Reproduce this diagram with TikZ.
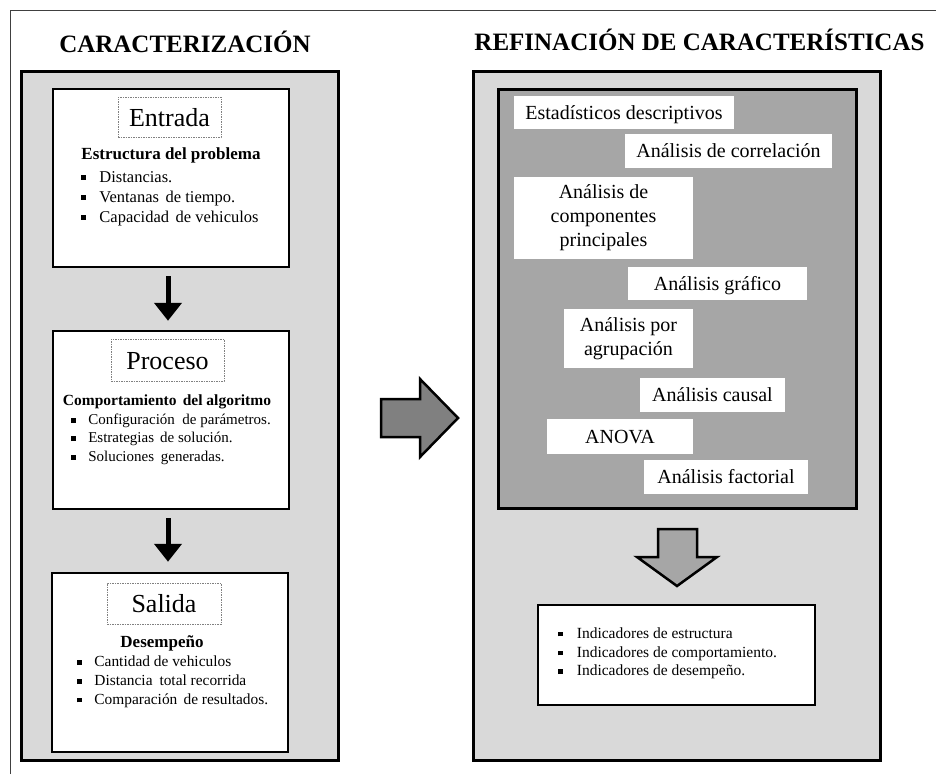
\documentclass[tikz,border=0pt]{standalone}
\usepackage{fontspec}
\setmainfont{Liberation Serif}
\usetikzlibrary{arrows.meta}
\definecolor{panelgray}{HTML}{D9D9D9}
\definecolor{innergray}{HTML}{A6A6A6}
\definecolor{arrowgray}{HTML}{808080}
\newcommand{\fsz}[1]{\fontsize{#1}{#1}\selectfont}
\newcommand{\sqbullet}{\rule[0.1em]{0.32em}{0.32em}}
\begin{document}
\begin{tikzpicture}[x=1pt,y=-1pt,
  panel/.style={draw=black,line width=3pt,fill=panelgray,inner sep=0pt},
  stagebox/.style={draw=black,line width=2.5pt,fill=white,inner sep=0pt},
  tagbox/.style={draw=gray,line width=0.7pt,dash pattern=on 1.5pt off 1pt,fill=white,inner sep=0pt,font=\fsz{26},text height=18pt,text depth=0pt},
  head/.style={anchor=base,inner sep=0pt},
  item/.style={anchor=base west,inner sep=0pt},
  method/.style={fill=white,inner sep=0pt,font=\fontsize{20}{24}\selectfont,align=center},
  oneline/.style={text height=15pt,text depth=2pt},
  title/.style={anchor=base,inner sep=0pt,font=\bfseries\fsz{25}},
  blk/.style={-{Triangle[width=27pt,length=18pt]},line width=5pt},
  block/.style={draw=black,line width=2.5pt,line join=miter}
]
\useasboundingbox (0,0) rectangle (936,774);
% page frame
\draw[line width=1pt,black!75] (10,774) -- (10,10) -- (936,10);

% titles
\node[title] (t1) at (185,52) {CARACTERIZACIÓN};
\node[title] (t2) at (699.5,50) {REFINACIÓN DE CARACTERÍSTICAS};

% ---------- left panel ----------
\node[panel,minimum width=317pt,minimum height=689pt] (leftpanel) at (179.5,415.5) {};

\node[stagebox,minimum width=236pt,minimum height=178pt] (entrada) at (171,178) {};
\node[tagbox,minimum width=103pt,minimum height=40pt] (entradatag) at (169.5,117) {Entrada};
\node[head,font=\bfseries\fsz{17}] (h1) at (171,159) {Estructura del problema};
\node[item,font=\fsz{16.5}] (e1) at (81,182) {\sqbullet\hspace{13pt}Distancias.};
\node[item,font=\fsz{16.5}] (e2) at (81,202) {\sqbullet\hspace{13pt}Ventanas\hspace{0.4em}de tiempo.};
\node[item,font=\fsz{16.5}] (e3) at (81,222) {\sqbullet\hspace{13pt}Capacidad\hspace{0.4em}de vehiculos};

\node[stagebox,minimum width=236pt,minimum height=178pt] (proceso) at (171,420) {};
\node[tagbox,minimum width=113pt,minimum height=42pt] (procesotag) at (167.5,360) {Proceso};
\node[head,font=\bfseries\fsz{15.5}] (h2) at (167,405) {Comportamiento\hspace{0.4em}del algoritmo};
\node[item,font=\fsz{15}] (p1) at (70.7,424) {\sqbullet\hspace{12.6pt}Configuración\hspace{0.5em}de parámetros.};
\node[item,font=\fsz{15}] (p2) at (70.7,442.7) {\sqbullet\hspace{12.6pt}Estrategias\hspace{0.4em}de solución.};
\node[item,font=\fsz{15}] (p3) at (70.7,461) {\sqbullet\hspace{12.6pt}Soluciones\hspace{0.45em}generadas.};

\node[stagebox,minimum width=236pt,minimum height=179pt] (salida) at (170,662.5) {};
\node[tagbox,minimum width=114pt,minimum height=41pt] (salidatag) at (164,603.5) {Salida};
\node[head,font=\bfseries\fsz{17}] (h3) at (162,647) {Desempeño};
\node[item,font=\fsz{15.4}] (s1) at (76.7,666.7) {\sqbullet\hspace{12.6pt}Cantidad de vehiculos};
\node[item,font=\fsz{15.4}] (s2) at (76.7,685.7) {\sqbullet\hspace{12.6pt}Distancia\hspace{0.45em}total recorrida};
\node[item,font=\fsz{15.4}] (s3) at (76.7,704) {\sqbullet\hspace{12.6pt}Comparación\hspace{0.4em}de resultados.};

\draw[blk,shorten <=8pt,shorten >=9pt] ([xshift=-3pt]entrada.south) -- ([xshift=-3pt]proceso.north);
\draw[blk,shorten <=8pt,shorten >=10pt] ([xshift=-3pt]proceso.south) -- ([xshift=-2pt]salida.north);

% ---------- block arrow between panels ----------
\draw[block,fill=arrowgray] (381,399) -- (420,399) -- (420,379) -- (458,418) -- (420,457) -- (420,437) -- (381,437) -- cycle;

% ---------- right panel ----------
\node[panel,minimum width=407pt,minimum height=689pt] (rightpanel) at (676.5,415.5) {};
\node[draw=black,line width=3pt,fill=innergray,inner sep=0pt,minimum width=358pt,minimum height=419pt] (methods) at (677,298.5) {};

\node[method,oneline,minimum width=220pt,minimum height=33pt] (m1) at (624,112.5) {Estadísticos descriptivos};
\node[method,oneline,minimum width=207pt,minimum height=34pt] (m2) at (728.5,151) {Análisis de correlación};
\node[method,minimum width=179pt,minimum height=82pt] (m3) at (603.5,218) {\rule{0pt}{4pt}Análisis de\\componentes\\principales};
\node[method,oneline,minimum width=179pt,minimum height=33pt] (m4) at (717.5,283.5) {Análisis gráfico};
\node[method,minimum width=129pt,minimum height=59pt] (m5) at (628.5,338.5) {\rule{0pt}{4pt}Análisis por\\agrupación};
\node[method,oneline,minimum width=145pt,minimum height=34pt] (m6) at (712.5,395) {Análisis causal};
\node[method,oneline,minimum width=146pt,minimum height=35pt] (m7) at (620,436.5) {ANOVA};
\node[method,oneline,minimum width=164pt,minimum height=34pt] (m8) at (726,477) {Análisis factorial};

% down block arrow
\draw[block,fill=innergray] (658,529) -- (697,529) -- (697,557) -- (717,557) -- (677,586) -- (637,557) -- (658,557) -- cycle;

\node[stagebox,minimum width=277pt,minimum height=100pt] (indicadores) at (676.5,655) {};
\node[item,font=\fsz{15.5}] (i1) at (558,638) {\sqbullet\hspace{13.7pt}Indicadores de estructura};
\node[item,font=\fsz{15.5}] (i2) at (558,657) {\sqbullet\hspace{13.7pt}Indicadores de comportamiento.};
\node[item,font=\fsz{15.5}] (i3) at (558,675.7) {\sqbullet\hspace{13.7pt}Indicadores de desempeño.};
\end{tikzpicture}
\end{document}
